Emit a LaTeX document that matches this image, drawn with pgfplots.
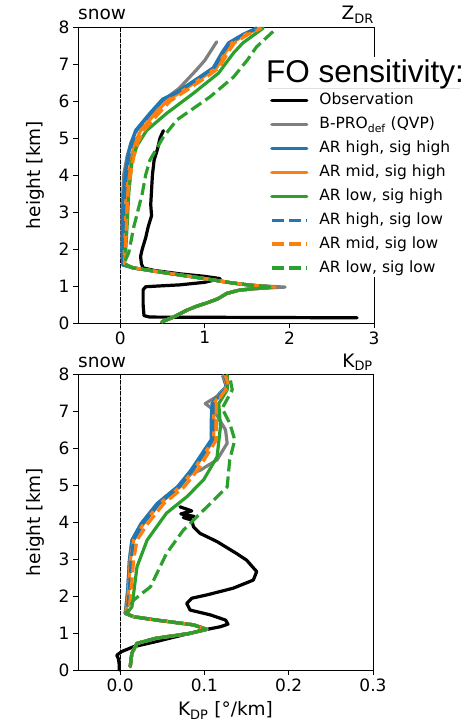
\documentclass[border=0pt]{standalone}
\usepackage{pgfplots}
\pgfplotsset{compat=1.18}
\usepackage{fontspec}
\setmainfont{DejaVu Sans}
\newfontfamily\titlefont{Liberation Sans}
\definecolor{tabblue}{HTML}{1F77B4}
\definecolor{taborange}{HTML}{FF7F0E}
\definecolor{tabgreen}{HTML}{2CA02C}
\definecolor{tabgray}{HTML}{7F7F7F}
\pgfplotsset{
  common/.style={
    scale only axis,
    /pgf/number format/assume math mode=true,
    ymin=0, ymax=8, ytick={0,1,...,8},
    tick align=outside, major tick length=5pt,
    tick style={black, line width=0.8pt},
    axis line style={black, line width=0.8pt},
    xtick pos=bottom, ytick pos=left,
    ticklabel style={font=\fontsize{17}{20}\selectfont},
    every axis y label/.style={at={(axis description cs:-0.145,0.5)}, rotate=90, anchor=center, font=\fontsize{18.5}{22}\selectfont},
    ylabel={height [km]},
    clip=false,
    every axis plot/.append style={line join=round, line cap=round},
  },
  obs/.style={black, line width=3.2pt},
  bpro/.style={tabgray, line width=3.2pt},
  hh/.style={tabblue, line width=3.2pt},
  mh/.style={taborange, line width=3.2pt},
  lh/.style={tabgreen, line width=3.2pt},
  hl/.style={tabblue, line width=3.2pt, line cap=butt, dash pattern=on 12pt off 5pt},
  ml/.style={taborange, line width=3.2pt, line cap=butt, dash pattern=on 12pt off 5pt},
  ll/.style={tabgreen, line width=3.2pt, line cap=butt, dash pattern=on 12pt off 5pt},
}
\begin{document}
\begin{tikzpicture}
\path[use as bounding box] (0pt,0pt) rectangle (469pt,721pt);
% ---------------- top: ZDR ----------------
\begin{axis}[common,
  at={(78pt,398pt)}, anchor=south west,
  width=296pt, height=296pt,
  xmin=-0.5, xmax=3, xtick={0,1,2,3},
  legend style={at={(axis description cs:0.6486,0.778)}, anchor=north west,
    draw=none, fill=none, inner sep=0pt, font=\fontsize{15.5}{18}\selectfont,
    row sep=8.4pt, nodes={inner sep=0pt, text height=12pt, text depth=3.5pt}},
  legend cell align=left,
  /tikz/every odd column/.append style={column sep=11pt},
  legend image code/.code={\draw[#1] (0pt,0pt) -- (35pt,0pt);},
]
\addplot[black, line width=1.1pt, dash pattern=on 3.5pt off 2pt, forget plot] coordinates {(0,0) (0,8)};
\addplot[obs] coordinates {(2.8,0.14) (0.35,0.16) (0.28,0.2) (0.27,0.5) (0.27,0.9) (0.3,0.98) (0.45,1.0) (0.7,1.03) (1.0,1.1) (1.18,1.2) (1.0,1.26) (0.7,1.33) (0.4,1.42) (0.27,1.49) (0.25,1.6) (0.24,1.8) (0.26,2.0) (0.3,2.3) (0.33,2.6) (0.37,2.9) (0.36,3.2) (0.37,3.6) (0.38,4.0) (0.40,4.4) (0.44,4.7) (0.47,5.0) (0.51,5.2)};
\addlegendentry{Observation}
\addplot[bpro] coordinates {(0.49,0.03) (0.62,0.15) (0.79,0.35) (0.9,0.45) (1.02,0.54) (1.15,0.65) (1.26,0.8) (1.41,0.89) (1.6,0.93) (1.95,0.97) (1.55,1.02) (1.33,1.08) (0.94,1.22) (0.55,1.35) (0.15,1.49) (0.03,1.57) (0.02,2.0) (0.02,3.0) (0.04,4.0) (0.08,4.5) (0.13,4.9) (0.2,5.25) (0.34,5.6) (0.5,6.0) (0.7,6.35) (0.9,6.84) (1.0,7.1) (1.14,7.6)};
\addlegendentry{B-PRO\textsubscript{def} (QVP)}
\addplot[hh] coordinates {(0.49,0.03) (0.62,0.15) (0.79,0.35) (0.9,0.45) (1.02,0.54) (1.15,0.65) (1.26,0.8) (1.41,0.89) (1.6,0.93) (1.83,0.97) (1.55,1.02) (1.33,1.08) (0.94,1.22) (0.55,1.35) (0.15,1.49) (0.03,1.57) (0.02,2.0) (0.03,2.5) (0.03,3.0) (0.04,3.5) (0.06,4.0) (0.09,4.5) (0.12,4.8) (0.18,5.2) (0.35,5.67) (0.5,6.05) (0.67,6.24) (0.94,6.65) (1.1,6.9) (1.2,7.3) (1.28,7.57) (1.45,7.8) (1.61,7.97)};
\addlegendentry{AR high, sig high}
\addplot[mh] coordinates {(0.49,0.03) (0.62,0.15) (0.79,0.35) (0.9,0.45) (1.02,0.54) (1.15,0.65) (1.26,0.8) (1.41,0.89) (1.6,0.93) (1.83,0.97) (1.55,1.02) (1.33,1.08) (0.94,1.22) (0.55,1.35) (0.15,1.49) (0.04,1.6) (0.05,2.0) (0.06,2.5) (0.06,3.0) (0.07,3.5) (0.1,4.0) (0.13,4.5) (0.18,4.9) (0.24,5.2) (0.39,5.6) (0.55,6.0) (0.72,6.25) (0.98,6.65) (1.14,6.9) (1.24,7.3) (1.32,7.57) (1.48,7.8) (1.65,7.97)};
\addlegendentry{AR mid, sig high}
\addplot[lh] coordinates {(0.49,0.03) (0.62,0.15) (0.79,0.35) (0.9,0.45) (1.02,0.54) (1.15,0.65) (1.26,0.8) (1.41,0.89) (1.6,0.93) (1.8,0.97) (1.55,1.02) (1.33,1.08) (0.94,1.22) (0.55,1.35) (0.15,1.49) (0.05,1.6) (0.06,1.8) (0.08,2.6) (0.1,3.5) (0.14,4.4) (0.2,4.8) (0.31,5.2) (0.55,5.67) (0.86,6.2) (1.16,6.75) (1.34,7.3) (1.45,7.57) (1.69,7.97)};
\addlegendentry{AR low, sig high}
\addplot[hl] coordinates {(0.49,0.03) (0.62,0.15) (0.79,0.35) (0.9,0.45) (1.02,0.54) (1.15,0.65) (1.26,0.8) (1.41,0.89) (1.6,0.93) (1.83,0.97) (1.55,1.02) (1.33,1.08) (0.94,1.22) (0.55,1.35) (0.15,1.49) (0.03,1.57) (0.03,2.0) (0.04,2.5) (0.04,3.0) (0.05,3.5) (0.07,4.0) (0.1,4.5) (0.13,4.8) (0.19,5.2) (0.36,5.67) (0.51,6.05) (0.68,6.24) (0.95,6.65) (1.11,6.9) (1.21,7.3) (1.29,7.57) (1.46,7.8) (1.62,7.97)};
\addlegendentry{AR high, sig low}
\addplot[ml] coordinates {(0.49,0.03) (0.62,0.15) (0.79,0.35) (0.9,0.45) (1.02,0.54) (1.15,0.65) (1.26,0.8) (1.41,0.89) (1.6,0.93) (1.83,0.97) (1.55,1.02) (1.33,1.08) (0.94,1.22) (0.55,1.35) (0.15,1.49) (0.05,1.6) (0.06,2.0) (0.07,2.5) (0.08,3.0) (0.09,3.5) (0.12,4.0) (0.16,4.5) (0.21,4.9) (0.28,5.2) (0.43,5.6) (0.59,6.0) (0.76,6.25) (1.02,6.65) (1.17,6.9) (1.27,7.3) (1.35,7.57) (1.51,7.8) (1.67,7.97)};
\addlegendentry{AR mid, sig low}
\addplot[ll] coordinates {(0.49,0.03) (0.62,0.15) (0.79,0.35) (0.9,0.45) (1.02,0.54) (1.15,0.65) (1.26,0.8) (1.41,0.89) (1.6,0.93) (1.8,0.97) (1.55,1.02) (1.33,1.08) (0.94,1.22) (0.55,1.35) (0.15,1.49) (0.04,1.6) (0.1,1.9) (0.16,2.6) (0.26,3.5) (0.3,4.0) (0.35,4.4) (0.51,5.03) (0.67,5.49) (1.06,6.11) (1.34,6.65) (1.5,7.1) (1.61,7.46) (1.85,7.97)};
\addlegendentry{AR low, sig low}
\fill[white] (rel axis cs:0.642,0.899) rectangle (rel axis cs:1.33,0.155);
\draw[black!12, line width=0.8pt] (rel axis cs:0.642,0.794) -- (rel axis cs:1.29,0.794);
\node[anchor=base west, inner sep=0pt, font=\titlefont\fontsize{31.5}{36}\selectfont] at (rel axis cs:0.635,0.814) {FO sensitivity:};
\node[anchor=base west, inner sep=0pt, font=\fontsize{18.5}{22}\selectfont] at ([yshift=7pt]rel axis cs:0,1) {snow};
\node[anchor=base east, inner sep=0pt, font=\fontsize{18.5}{22}\selectfont] at ([yshift=7pt]rel axis cs:1,1) {Z\textsubscript{DR}};
\end{axis}
% ---------------- bottom: KDP ----------------
\begin{axis}[common,
  at={(78pt,51pt)}, anchor=south west,
  width=295pt, height=296pt,
  xmin=-0.05, xmax=0.3, xtick={0,0.1,0.2,0.3}, xticklabels={0.0,0.1,0.2,0.3},
  xlabel={K\textsubscript{DP} [°/km]},
  every axis x label/.style={at={(axis description cs:0.5,-0.155)}, anchor=base, font=\fontsize{18.5}{22}\selectfont},
]
\addplot[black, line width=1.1pt, dash pattern=on 3.5pt off 2pt] coordinates {(0,0) (0,8)};
\addplot[obs] coordinates {(-0.001,0.0) (-0.001,0.13) (-0.002,0.3) (-0.004,0.4) (0.002,0.5) (0.016,0.63) (0.043,0.77) (0.075,0.95) (0.099,1.08) (0.119,1.17) (0.128,1.24) (0.125,1.35) (0.107,1.49) (0.083,1.62) (0.079,1.8) (0.085,1.94) (0.103,2.03) (0.134,2.21) (0.158,2.43) (0.162,2.66) (0.150,2.97) (0.138,3.15) (0.115,3.47) (0.095,3.69) (0.087,3.87) (0.085,4.05) (0.075,4.12) (0.088,4.15) (0.072,4.22) (0.085,4.3) (0.071,4.41)};
\addplot[bpro] coordinates {(0.012,0.09) (0.013,0.3) (0.014,0.46) (0.02,0.72) (0.043,0.86) (0.083,0.99) (0.103,1.1) (0.087,1.22) (0.043,1.35) (0.016,1.44) (0.006,1.53) (0.007,1.71) (0.009,2.16) (0.011,2.97) (0.014,3.51) (0.025,3.96) (0.044,4.5) (0.068,4.95) (0.084,5.3) (0.095,5.4) (0.115,5.68) (0.127,6.13) (0.125,6.49) (0.111,7.03) (0.101,7.2) (0.121,7.48) (0.126,7.66) (0.122,7.95)};
\addplot[hh] coordinates {(0.012,0.09) (0.013,0.3) (0.014,0.46) (0.02,0.72) (0.043,0.86) (0.083,0.99) (0.103,1.1) (0.087,1.22) (0.043,1.35) (0.016,1.44) (0.006,1.53) (0.007,1.71) (0.009,2.16) (0.011,2.97) (0.014,3.51) (0.025,3.96) (0.044,4.5) (0.068,4.95) (0.084,5.4) (0.1,5.95) (0.108,6.22) (0.108,6.7) (0.109,7.2) (0.118,7.48) (0.126,7.66) (0.122,7.95)};
\addplot[mh] coordinates {(0.012,0.09) (0.013,0.3) (0.014,0.46) (0.02,0.72) (0.043,0.86) (0.083,0.99) (0.103,1.1) (0.087,1.22) (0.043,1.35) (0.016,1.44) (0.006,1.53) (0.008,1.71) (0.010,2.16) (0.012,2.97) (0.016,3.51) (0.028,3.96) (0.047,4.5) (0.071,4.95) (0.087,5.4) (0.103,5.95) (0.111,6.22) (0.111,6.7) (0.111,7.2) (0.119,7.48) (0.127,7.66) (0.123,7.95)};
\addplot[lh] coordinates {(0.012,0.09) (0.013,0.3) (0.014,0.46) (0.02,0.72) (0.043,0.86) (0.083,0.99) (0.102,1.1) (0.087,1.22) (0.043,1.35) (0.016,1.44) (0.008,1.53) (0.014,1.71) (0.020,2.79) (0.032,3.51) (0.055,4.24) (0.079,4.68) (0.099,5.14) (0.115,5.76) (0.119,6.58) (0.117,7.2) (0.127,7.57) (0.127,7.97)};
\addplot[hl] coordinates {(0.012,0.09) (0.013,0.3) (0.014,0.46) (0.02,0.72) (0.043,0.86) (0.083,0.99) (0.103,1.1) (0.087,1.22) (0.043,1.35) (0.016,1.44) (0.006,1.53) (0.009,1.71) (0.011,2.16) (0.013,2.97) (0.016,3.51) (0.027,3.96) (0.046,4.5) (0.070,4.95) (0.086,5.4) (0.102,5.95) (0.110,6.22) (0.110,6.7) (0.111,7.2) (0.120,7.48) (0.128,7.66) (0.124,7.95)};
\addplot[ml] coordinates {(0.012,0.09) (0.013,0.3) (0.014,0.46) (0.02,0.72) (0.043,0.86) (0.083,0.99) (0.103,1.1) (0.087,1.22) (0.043,1.35) (0.016,1.44) (0.007,1.53) (0.011,1.71) (0.013,2.16) (0.016,2.97) (0.020,3.51) (0.033,3.96) (0.052,4.5) (0.076,4.95) (0.092,5.4) (0.107,5.95) (0.114,6.22) (0.114,6.7) (0.114,7.2) (0.122,7.48) (0.129,7.66) (0.125,7.95)};
\addplot[ll] coordinates {(0.012,0.09) (0.013,0.3) (0.014,0.46) (0.02,0.72) (0.043,0.86) (0.083,0.99) (0.102,1.1) (0.087,1.22) (0.043,1.35) (0.016,1.44) (0.007,1.53) (0.01,1.65) (0.016,1.89) (0.036,2.25) (0.055,3.15) (0.075,3.78) (0.103,4.41) (0.127,4.95) (0.130,5.68) (0.136,6.22) (0.130,6.67) (0.121,7.07) (0.133,7.57) (0.13,7.93)};
\node[anchor=base west, inner sep=0pt, font=\fontsize{18.5}{22}\selectfont] at ([yshift=7pt]rel axis cs:0,1) {snow};
\node[anchor=base east, inner sep=0pt, font=\fontsize{18.5}{22}\selectfont] at ([yshift=7pt]rel axis cs:1,1) {K\textsubscript{DP}};
\end{axis}
\end{tikzpicture}
\end{document}
